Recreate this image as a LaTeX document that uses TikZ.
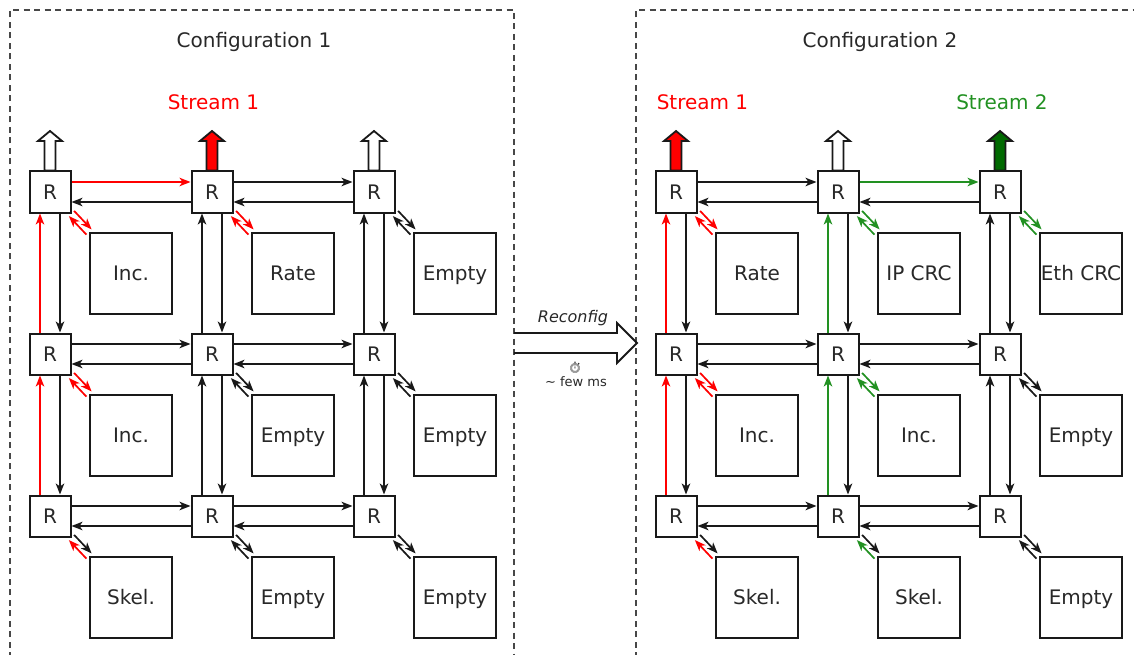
\documentclass[tikz,border=0pt]{standalone}
\usepackage{fontspec}
\setmainfont{DejaVu Sans}
\newfontfamily\emojifont{Noto Emoji}
\usetikzlibrary{arrows.meta,calc}
\definecolor{sred}{RGB}{255,0,0}
\definecolor{sgreen}{RGB}{34,145,34}
\definecolor{dgreen}{RGB}{0,105,0}
\definecolor{txt}{RGB}{40,40,40}
\definecolor{ln}{RGB}{25,25,25}
\newcommand\hlinkx[3]{%
  \draw[link,#3] ([yshift=10pt]#1.east) -- ([yshift=10pt]#2.west);
  \draw[link] ([yshift=-10pt]#2.west) -- ([yshift=-10pt]#1.east);}
\newcommand\vlinkx[3]{%
  \draw[link,#3] ([xshift=-10pt]#2.north) -- ([xshift=-10pt]#1.south);
  \draw[link] ([xshift=10pt]#1.south) -- ([xshift=10pt]#2.north);}
\newcommand\dlinkx[4]{%
  \draw[link,#3] ([xshift=2.6pt,yshift=2.6pt]#1.south east) -- ([xshift=2.6pt,yshift=2.6pt]#2.north west);
  \draw[link,#4] ([xshift=-2.6pt,yshift=-2.6pt]#2.north west) -- ([xshift=-2.6pt,yshift=-2.6pt]#1.south east);}
\newcommand\outarrx[2]{%
  \filldraw[outarrow,fill=#2] (#1.north) ++(-5.5,0) -- ++(0,-29.5) -- ++(-6.5,0) -- ++(12,-10) -- ++(12,10) -- ++(-6.5,0) -- ++(0,29.5) -- cycle;}
\begin{document}
\begin{tikzpicture}[x=1pt,y=-1pt,
  router/.style={draw=ln, line width=2pt, minimum size=41pt, inner sep=0pt,
    font=\fontsize{20}{24}\selectfont, text height=14.6pt, text depth=0pt, text=txt},
  block/.style={draw=ln, line width=2pt, minimum width=82pt, minimum height=81pt, inner sep=0pt,
    font=\fontsize{20}{24}\selectfont, text height=14.6pt, text depth=0pt, text=txt},
  link/.style={draw=ln, line width=1.7pt, -{Stealth[length=11pt,width=8.5pt,inset=3pt]}},
  outarrow/.style={draw=ln, line width=1.8pt, line join=miter},
  panel/.style={dash pattern=on 6pt off 4.5pt, line width=1.7pt, draw=black!72},
  title/.style={anchor=base, font=\fontsize{20}{24}\selectfont, text=txt}
]
\useasboundingbox (0,0) rectangle (1134,655);
\clip (0,0) rectangle (1134,655);

% panels
\draw[panel] (10,700) -- (10,10) -- (514,10) -- (514,700);
\draw[panel] (636,700) -- (636,10) -- (1180,10);

% titles
\node[title] (t1) at (254,48) {Configuration 1};
\node[title] (t2) at (880,48) {Configuration 2};
\node[title,text=sred] (s1a) at (213.5,110) {Stream 1};
\node[title,text=sred] (s1b) at (702.5,110) {Stream 1};
\node[title,text=sgreen] (s2b) at (1002,110) {Stream 2};

% routers
\foreach \r/\y in {1/192,2/354,3/516}{
  \foreach \c/\x in {1/50,2/212,3/374}{
    \node[router] (a\r\c) at (\x,\y) {R};
  }
  \foreach \c/\x in {1/676,2/838,3/1000}{
    \node[router] (b\r\c) at (\x,\y) {R};
  }
}

% blocks config 1
\node[block] (ka11) at ($(a11)+(81,81.5)$) {Inc.};
\node[block] (ka12) at ($(a12)+(81,81.5)$) {Rate};
\node[block] (ka13) at ($(a13)+(81,81.5)$) {Empty};
\node[block] (ka21) at ($(a21)+(81,81.5)$) {Inc.};
\node[block] (ka22) at ($(a22)+(81,81.5)$) {Empty};
\node[block] (ka23) at ($(a23)+(81,81.5)$) {Empty};
\node[block] (ka31) at ($(a31)+(81,81.5)$) {Skel.};
\node[block] (ka32) at ($(a32)+(81,81.5)$) {Empty};
\node[block] (ka33) at ($(a33)+(81,81.5)$) {Empty};
% blocks config 2
\node[block] (kb11) at ($(b11)+(81,81.5)$) {Rate};
\node[block] (kb12) at ($(b12)+(81,81.5)$) {IP CRC};
\node[block] (kb13) at ($(b13)+(81,81.5)$) {Eth CRC};
\node[block] (kb21) at ($(b21)+(81,81.5)$) {Inc.};
\node[block] (kb22) at ($(b22)+(81,81.5)$) {Inc.};
\node[block] (kb23) at ($(b23)+(81,81.5)$) {Empty};
\node[block] (kb31) at ($(b31)+(81,81.5)$) {Skel.};
\node[block] (kb32) at ($(b32)+(81,81.5)$) {Skel.};
\node[block] (kb33) at ($(b33)+(81,81.5)$) {Empty};

% ---- config 1 links
\hlinkx{a11}{a12}{sred}
\hlinkx{a12}{a13}{}
\hlinkx{a21}{a22}{}
\hlinkx{a22}{a23}{}
\hlinkx{a31}{a32}{}
\hlinkx{a32}{a33}{}
\vlinkx{a11}{a21}{sred}
\vlinkx{a21}{a31}{sred}
\vlinkx{a12}{a22}{}
\vlinkx{a22}{a32}{}
\vlinkx{a13}{a23}{}
\vlinkx{a23}{a33}{}
\dlinkx{a11}{ka11}{sred}{sred}
\dlinkx{a12}{ka12}{sred}{sred}
\dlinkx{a13}{ka13}{}{}
\dlinkx{a21}{ka21}{sred}{sred}
\dlinkx{a22}{ka22}{}{}
\dlinkx{a23}{ka23}{}{}
\dlinkx{a31}{ka31}{}{sred}
\dlinkx{a32}{ka32}{}{}
\dlinkx{a33}{ka33}{}{}
\outarrx{a11}{white}
\outarrx{a12}{sred}
\outarrx{a13}{white}

% ---- config 2 links
\hlinkx{b11}{b12}{}
\hlinkx{b12}{b13}{sgreen}
\hlinkx{b21}{b22}{}
\hlinkx{b22}{b23}{}
\hlinkx{b31}{b32}{}
\hlinkx{b32}{b33}{}
\vlinkx{b11}{b21}{sred}
\vlinkx{b21}{b31}{sred}
\vlinkx{b12}{b22}{sgreen}
\vlinkx{b22}{b32}{sgreen}
\vlinkx{b13}{b23}{}
\vlinkx{b23}{b33}{}
\dlinkx{b11}{kb11}{sred}{sred}
\dlinkx{b12}{kb12}{sgreen}{sgreen}
\dlinkx{b13}{kb13}{sgreen}{sgreen}
\dlinkx{b21}{kb21}{sred}{sred}
\dlinkx{b22}{kb22}{sgreen}{sgreen}
\dlinkx{b23}{kb23}{}{}
\dlinkx{b31}{kb31}{}{sred}
\dlinkx{b32}{kb32}{}{sgreen}
\dlinkx{b33}{kb33}{}{}
\outarrx{b11}{sred}
\outarrx{b12}{white}
\outarrx{b13}{dgreen}

% reconfiguration arrow
\coordinate (rs) at (514,343);
\coordinate (rt) at (637,343);
\draw[draw=ln, line width=1.8pt, line join=miter]
  ([yshift=10pt]rs) -- (617,333) -- (617,323) -- (rt) -- (617,363) -- (617,353) -- ([yshift=-10pt]rs);
\node[font=\itshape\fontsize{16}{19}\selectfont, text=txt] (rc) at (573,318) {Reconfig};
\node[font=\emojifont\fontsize{11}{12}\selectfont, text=txt, inner sep=0pt] (sw) at (575,368) {⏱};
\node[font=\fontsize{13}{15}\selectfont, text=txt] (fm) at (576,382) {\textasciitilde{} few ms};
\end{tikzpicture}
\end{document}
